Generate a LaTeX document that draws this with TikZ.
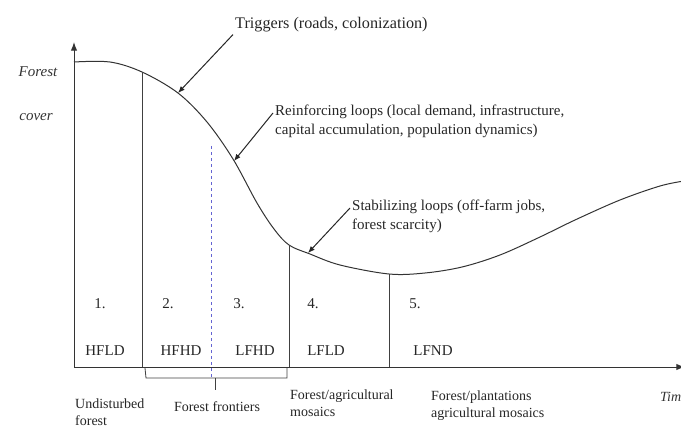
\documentclass[tikz,border=0pt]{standalone}
\usepackage{fontspec}
\setmainfont{Liberation Serif}
\usetikzlibrary{arrows.meta,positioning,calc}
\definecolor{split}{RGB}{100,100,210}
\tikzset{
  note/.style={align=left,inner sep=2pt,font=\fontsize{15}{19}\selectfont,text=black!85},
  stage/.style={inner sep=2pt,font=\fontsize{15}{18}\selectfont,text=black!85},
  phase/.style={align=left,inner sep=2pt,font=\fontsize{14}{16.5}\selectfont,text=black!85},
  axlabel/.style={inner sep=2pt,font=\fontsize{15}{18}\selectfont\itshape,text=black!80},
  axis/.style={-{Latex[length=3mm,width=2.2mm]},line width=1pt,draw=black!80},
  border/.style={line width=1pt,draw=black!75},
  pointer/.style={-{Latex[length=2.4mm,width=1.9mm]},line width=1pt,draw=black!85}
}

\begin{document}
\begin{tikzpicture}[x=1pt,y=-1pt]
\useasboundingbox (0,0) rectangle (681,428);

\coordinate (o) at (74,367);
\coordinate (ytop) at (74,42);
\coordinate (xend) at (685,367);
\draw[axis] (o) -- (ytop);
\draw[axis] (o) -- (xend);

\draw[line width=1pt,black!80] plot[smooth,tension=0.55] coordinates {
  (74,62) (110,62) (142,72) (178,93) (207,122) (233,159) (257,203)
  (274,229) (289,245) (310,254) (340,265) (389,274) (425,273) (462,267)
  (500,255) (540,237) (575,220) (620,200) (660,186) (684,181)};

\coordinate (c1) at (142,72);
\coordinate (c4) at (289,245);
\coordinate (c5) at (389,274);
\coordinate (ptrig) at (178,93);
\coordinate (preinf) at (234,161);
\coordinate (pstab) at (308,253);

\draw[border] (c1) -- (c1 |- o);
\draw[border] (c4) -- (c4 |- o);
\draw[border] (c5) -- (c5 |- o);

\coordinate (dtop) at (211,146);
\coordinate (dbot) at (211,378);
\draw[dashed,split,line width=0.9pt] (dtop) -- (dbot);

\coordinate (bl) at (145,368);
\coordinate (br) at (287,368);
\coordinate (bm) at (215,378);
\coordinate (btick) at (215,390);
\draw[line width=0.8pt,black!75] (bl) -- ++(1,10) -| (br);
\draw[line width=0.8pt,black!75] (bm) -- (btick);

\node[axlabel] (fo) at (38,72) {Forest};
\node[axlabel] (cov) at (36,117) {cover};

\node[note,anchor=west,font=\fontsize{16.2}{19}\selectfont] (trig) at (233,25) {Triggers (roads, colonization)};
\node[note,anchor=north west] (reinf) at (273,103)
  {Reinforcing loops (local demand, infrastructure,\\capital accumulation, population dynamics)};
\node[note,anchor=north west] (stab) at (350,198)
  {Stabilizing loops (off-farm jobs,\\forest scarcity)};

\draw[pointer] (trig.south west) -- (ptrig);
\draw[pointer] ($(reinf.north west)+(0,10)$) -- (preinf);
\draw[pointer] ($(stab.north west)+(0,10)$) -- (pstab);

\node[stage] (n1) at (100,304) {1.};
\node[stage] (n2) at (168,304) {2.};
\node[stage] (n3) at (239,304) {3.};
\node[stage] (n4) at (313,304) {4.};
\node[stage] (n5) at (415,304) {5.};

\node[stage] (s1) at (105,351) {HFLD};
\node[stage] (s2) at (181,351) {HFHD};
\node[stage] (s3) at (255,351) {LFHD};
\node[stage] (s4) at (326,351) {LFLD};
\node[stage] (s5) at (433,351) {LFND};

\node[phase,anchor=north west] (p1) at (73,397) {Undisturbed\\forest};
\node[phase] (p2) at (217,407) {Forest frontiers};
\node[phase,anchor=north west] (p3) at (288,388) {Forest/agricultural\\mosaics};
\node[phase,anchor=north west] (p4) at (429,389) {Forest/plantations\\agricultural mosaics};
\node[axlabel,anchor=west,font=\fontsize{14}{16}\selectfont\itshape] (tm) at (658,397) {Time};

\end{tikzpicture}
\end{document}
